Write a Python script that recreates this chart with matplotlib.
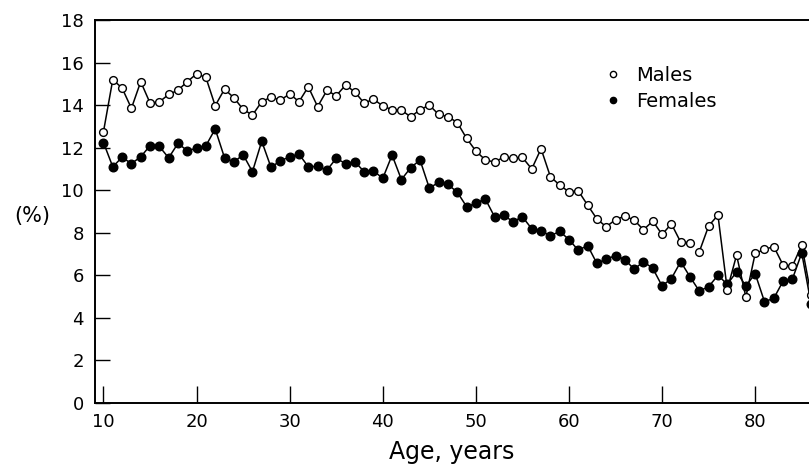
import matplotlib
matplotlib.use("Agg")
import matplotlib.pyplot as plt
import numpy as np
from matplotlib.lines import Line2D

ages = list(range(10, 87))
males = [12.75, 15.2, 14.8, 13.85, 15.1, 14.1, 14.15, 14.5, 14.7, 15.1,
         15.47, 15.3, 13.97, 14.75, 14.35, 13.8, 13.53, 14.16, 14.38, 14.23,
         14.53, 14.16, 14.86, 13.93, 14.69, 14.44, 14.94, 14.62, 14.09, 14.28,
         13.96, 13.78, 13.76, 13.45, 13.78, 14.0, 13.56, 13.46, 13.18, 12.44,
         11.84, 11.43, 11.32, 11.56, 11.5, 11.54, 11.0, 11.95, 10.64, 10.24,
         9.92, 9.97, 9.3, 8.65, 8.28, 8.62, 8.78, 8.6, 8.14, 8.55,
         7.92, 8.42, 7.56, 7.54, 7.11, 8.32, 8.83, 5.33, 6.95, 4.98,
         7.03, 7.22, 7.35, 6.48, 6.44, 7.42, 5.07]
females = [12.24, 11.1, 11.55, 11.25, 11.57, 12.09, 12.06, 11.52, 12.2, 11.86,
           11.97, 12.09, 12.88, 11.53, 11.32, 11.67, 10.87, 12.3, 11.07, 11.39,
           11.56, 11.7, 11.1, 11.12, 10.94, 11.5, 11.25, 11.34, 10.87, 10.91,
           10.56, 11.65, 10.5, 11.06, 11.42, 10.1, 10.37, 10.27, 9.91, 9.23,
           9.38, 9.6, 8.76, 8.82, 8.52, 8.75, 8.19, 8.1, 7.85, 8.07,
           7.68, 7.18, 7.4, 6.56, 6.76, 6.93, 6.74, 6.29, 6.64, 6.33,
           5.5, 5.85, 6.64, 5.93, 5.26, 5.47, 6.0, 5.58, 6.16, 5.5,
           6.08, 4.76, 4.92, 5.73, 5.83, 7.05, 4.67]
x_ticks = [10, 20, 30, 40, 50, 60, 70, 80]
y_ticks = [0, 2, 4, 6, 8, 10, 12, 14, 16, 18]
male_gap_after = 73  # the printed male line has a break between 73 and 74

plt.rcParams['font.family'] = ['DejaVu Sans']

fig = plt.figure(figsize=(8.09, 4.72), dpi=100)
ax = fig.add_axes([95/809, 1 - 403/472, 1 - 95/809, (403 - 20)/472])

a = np.array(ages)
m = np.array(males)
f = np.array(females)

# females (filled)
ax.plot(a, f, '-', color='black', lw=1.1, zorder=2)
ax.plot(a, f, 'o', color='black', ms=6.2, mec='black', zorder=3)

# males (open) with a break in the line
seg1 = a <= male_gap_after
seg2 = a > male_gap_after
ax.plot(a[seg1], m[seg1], '-', color='black', lw=1.1, zorder=4)
ax.plot(a[seg2], m[seg2], '-', color='black', lw=1.1, zorder=4)
ax.plot(a, m, 'o', mfc='white', mec='black', mew=1.0, ms=5.6, zorder=5)

ax.set_xlim(9.09, 85.78)
ax.set_ylim(0, 18)
ax.set_xticks(x_ticks)
ax.set_yticks(y_ticks)
ax.tick_params(axis='both', direction='in', width=1.0, labelsize=13)
ax.tick_params(axis='x', length=12, pad=7)
ax.tick_params(axis='y', length=11, pad=8)
ax.spines['right'].set_visible(False)
for s in ['left', 'top', 'bottom']:
    ax.spines[s].set_linewidth(1.4)

ax.set_xlabel('Age, years', fontsize=17, labelpad=7)
fig.text(32/809, 1 - 216/472, '(%)', ha='center', va='center', fontsize=15)

handles = [Line2D([], [], ls='none', marker='o', mfc='white', mec='black', ms=4.5, mew=1.0),
           Line2D([], [], ls='none', marker='o', color='black', ms=4.5)]
ax.legend(handles, ['Males', 'Females'], loc='upper left',
          bbox_to_anchor=(0.69, 0.925), frameon=False, fontsize=14,
          handlelength=0.8, handletextpad=0.8, labelspacing=0.35)

fig.savefig('out.png', dpi=100, facecolor='white')
